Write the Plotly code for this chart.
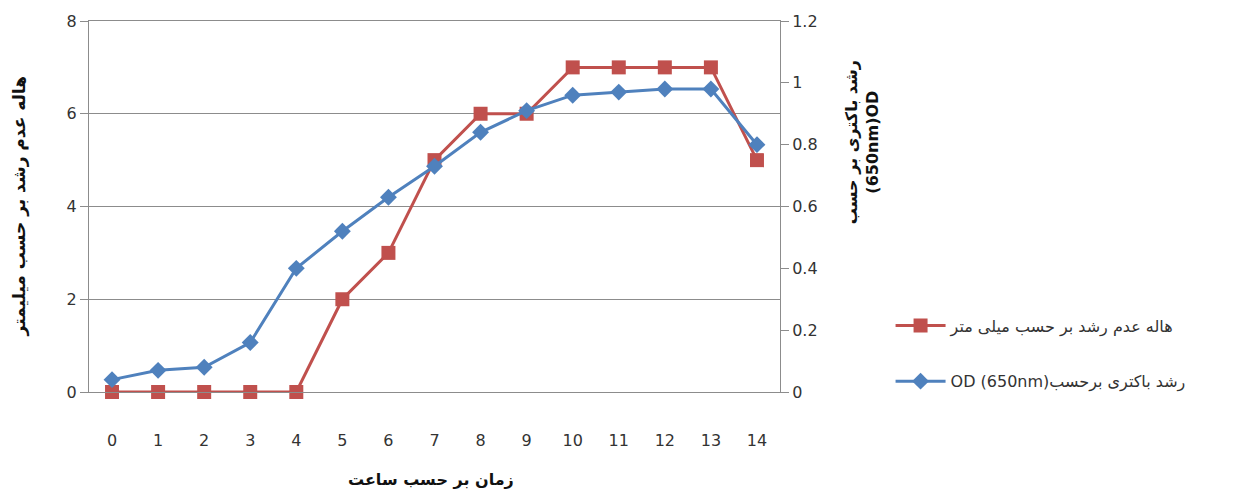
import plotly.graph_objects as go

# Hours since inoculation
hours = list(range(15))
hour_labels = [str(h) for h in hours]

# Inhibition zone diameter (mm) — left axis
halo_mm = [0, 0, 0, 0, 0, 2, 3, 5, 6, 6, 7, 7, 7, 7, 5]

# Bacterial growth, OD at 650 nm — right axis
od_650 = [0.04, 0.07, 0.08, 0.16, 0.40, 0.52, 0.63, 0.73, 0.84, 0.91,
          0.96, 0.97, 0.98, 0.98, 0.80]

left_ticks = [0, 2, 4, 6, 8]
right_ticks = [0, 0.2, 0.4, 0.6, 0.8, 1, 1.2]
right_tick_text = ["0", "0.2", "0.4", "0.6", "0.8", "1", "1.2"]

RED = "#C0504D"
BLUE = "#4F81BD"
GRID = "#8C8C8C"
FONT = "DejaVu Sans"
TXT = "#333333"

fig = go.Figure()

fig.add_trace(go.Scatter(
    x=hours, y=halo_mm, name="هاله عدم رشد بر حسب میلی متر",
    mode="lines+markers", yaxis="y", legend="legend", cliponaxis=False,
    line=dict(color=RED, width=3),
    marker=dict(symbol="square", size=14, color=RED),
))

fig.add_trace(go.Scatter(
    x=hours, y=od_650, name="OD (650nm)رشد باکتری برحسب",
    mode="lines+markers", yaxis="y2", legend="legend2", cliponaxis=False,
    line=dict(color=BLUE, width=3),
    marker=dict(symbol="diamond", size=13, color=BLUE),
))

fig.update_layout(
    width=1256, height=498,
    margin=dict(l=89, r=476, t=18, b=106),
    paper_bgcolor="white", plot_bgcolor="white",
    font=dict(family=FONT, size=16, color=TXT),
    xaxis=dict(
        range=[-0.5, 14.5], tickvals=hours, ticktext=hour_labels,
        showgrid=False, zeroline=False, showline=True, mirror=True,
        linecolor=GRID, linewidth=1,
        ticks="", ticklabelstandoff=34, tickfont=dict(size=16, color=TXT),
    ),
    yaxis=dict(
        range=[0, 8], tickvals=left_ticks, showgrid=True, gridcolor=GRID,
        gridwidth=1, zeroline=False, showline=True, linecolor=GRID,
        linewidth=1, ticks="outside", ticklen=8, tickcolor=GRID,
        tickfont=dict(size=16, color=TXT),
    ),
    yaxis2=dict(
        range=[0, 1.2], tickvals=right_ticks, ticktext=right_tick_text,
        overlaying="y", side="right", showgrid=False, zeroline=False,
        showline=True, linecolor=GRID, linewidth=1, ticks="outside",
        ticklen=8, tickcolor=GRID, tickfont=dict(size=16, color=TXT),
    ),
    legend=dict(
        x=1.16, y=0.179, xanchor="left", yanchor="middle", itemwidth=50,
        bgcolor="rgba(0,0,0,0)", font=dict(size=16, color=TXT),
    ),
    legend2=dict(
        x=1.16, y=0.029, xanchor="left", yanchor="middle", itemwidth=50,
        bgcolor="rgba(0,0,0,0)", font=dict(size=16, color=TXT),
    ),
    showlegend=True,
    annotations=[
        dict(text="<b>زمان بر حسب ساعت</b>", xref="paper", yref="paper",
             x=0.495, y=-0.235, xanchor="center", yanchor="middle",
             showarrow=False, font=dict(size=16, color="#111111")),
        dict(text="<b>هاله عدم رشد بر حسب میلیمتر</b>", xref="paper", yref="paper",
             x=-0.1, y=0.5, xanchor="center", yanchor="middle",
             textangle=-90, showarrow=False,
             font=dict(size=17, color="#111111")),
        dict(text="<b>رشد باکتری بر حسب</b><br><b>(650nm)OD</b>",
             xref="paper", yref="paper", x=1.119, y=0.674,
             xanchor="center", yanchor="middle", textangle=-90,
             showarrow=False, font=dict(size=16, color="#111111")),
    ],
)

fig.write_html("out.html")
